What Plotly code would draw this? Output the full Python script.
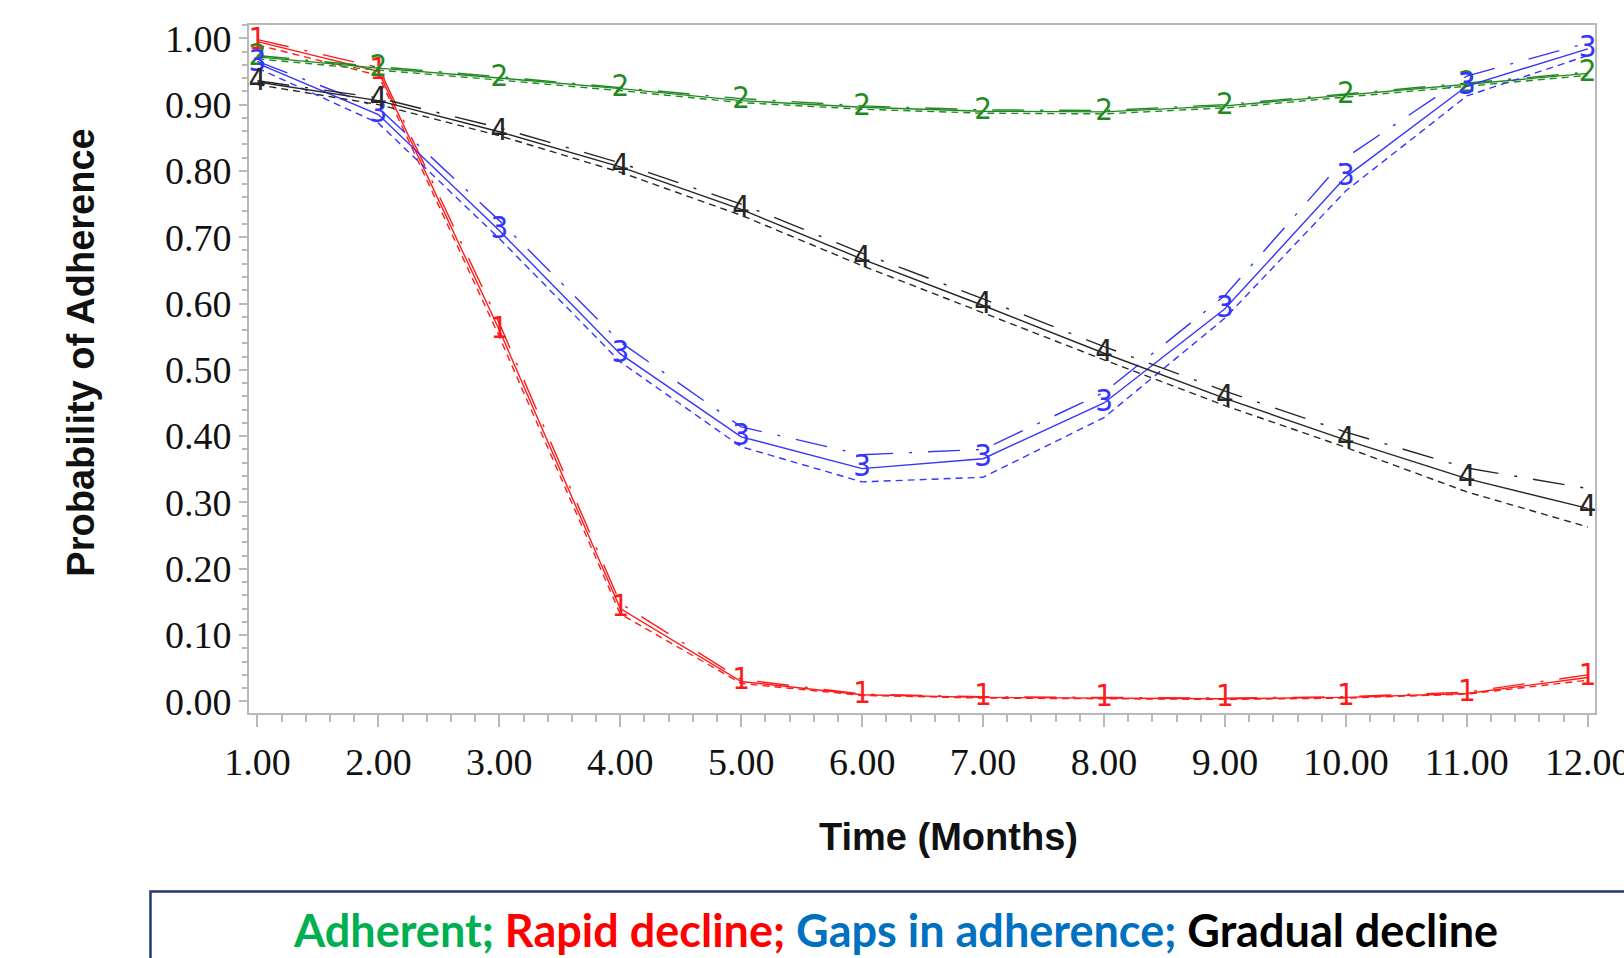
import plotly.graph_objects as go

months = [1, 2, 3, 4, 5, 6, 7, 8, 9, 10, 11, 12]
x_tick_labels = ["1.00", "2.00", "3.00", "4.00", "5.00", "6.00", "7.00", "8.00", "9.00", "10.00", "11.00", "12.00"]
y_tick_vals = [0.0, 0.1, 0.2, 0.3, 0.4, 0.5, 0.6, 0.7, 0.8, 0.9, 1.0]
y_tick_labels = ["0.00", "0.10", "0.20", "0.30", "0.40", "0.50", "0.60", "0.70", "0.80", "0.90", "1.00"]

# Group 1: Rapid decline (red)
rapid_solid   = [0.995, 0.950, 0.560, 0.140, 0.030, 0.010, 0.006, 0.005, 0.004, 0.006, 0.012, 0.036]
rapid_dash    = [0.990, 0.944, 0.550, 0.132, 0.027, 0.009, 0.005, 0.004, 0.003, 0.005, 0.011, 0.032]
rapid_dashdot = [0.998, 0.956, 0.570, 0.148, 0.033, 0.011, 0.007, 0.006, 0.005, 0.007, 0.014, 0.040]

# Group 2: Adherent (green)
adh_solid   = [0.972, 0.955, 0.940, 0.924, 0.906, 0.896, 0.890, 0.889, 0.898, 0.914, 0.931, 0.947]
adh_dash    = [0.969, 0.952, 0.937, 0.921, 0.903, 0.893, 0.887, 0.886, 0.895, 0.911, 0.928, 0.944]
adh_dashdot = [0.974, 0.957, 0.942, 0.926, 0.909, 0.898, 0.892, 0.891, 0.900, 0.916, 0.933, 0.949]

# Group 3: Gaps in adherence (blue)
gaps_solid   = [0.962, 0.885, 0.710, 0.524, 0.399, 0.351, 0.366, 0.450, 0.592, 0.791, 0.928, 0.984]
gaps_dash    = [0.955, 0.872, 0.698, 0.512, 0.384, 0.331, 0.338, 0.428, 0.578, 0.770, 0.913, 0.974]
gaps_dashdot = [0.965, 0.895, 0.725, 0.542, 0.414, 0.372, 0.380, 0.466, 0.612, 0.820, 0.943, 0.993]

# Group 4: Gradual decline (black)
grad_solid   = [0.934, 0.906, 0.859, 0.806, 0.742, 0.667, 0.597, 0.525, 0.457, 0.394, 0.336, 0.291]
grad_dash    = [0.930, 0.900, 0.853, 0.798, 0.733, 0.657, 0.586, 0.515, 0.446, 0.383, 0.316, 0.263]
grad_dashdot = [0.936, 0.910, 0.865, 0.812, 0.750, 0.676, 0.607, 0.535, 0.468, 0.406, 0.352, 0.321]

groups = [
    ("1", "#ff1a1a", rapid_solid, rapid_dash, rapid_dashdot),
    ("2", "#1f8a1f", adh_solid, adh_dash, adh_dashdot),
    ("3", "#3434ff", gaps_solid, gaps_dash, gaps_dashdot),
    ("4", "#262626", grad_solid, grad_dash, grad_dashdot),
]

fig = go.Figure()
for label, color, solid, dash, dashdot in groups:
    fig.add_trace(go.Scatter(x=months, y=dashdot, mode="lines",
                             line=dict(color=color, width=1.4, dash="32px,16px,3px,16px"),
                             showlegend=False, hoverinfo="skip"))
    fig.add_trace(go.Scatter(x=months, y=dash, mode="lines",
                             line=dict(color=color, width=1.4, dash="7px,5px"),
                             showlegend=False, hoverinfo="skip"))
    fig.add_trace(go.Scatter(x=months, y=solid, mode="lines+text",
                             text=[label] * len(months), textposition="middle center",
                             textfont=dict(family="DejaVu Sans Condensed, Liberation Sans Narrow, Liberation Sans",
                                           size=31, color=color),
                             line=dict(color=color, width=1.4),
                             showlegend=False))

axis_col = "#b9b9b9"
tick_font = dict(family="Liberation Serif, Times New Roman, serif", size=38, color="#111111")

fig.update_xaxes(
    range=[0.93, 12.06], tickvals=months, ticktext=x_tick_labels,
    showgrid=False, zeroline=False, showline=True, mirror=True, automargin=False,
    linecolor=axis_col, linewidth=2,
    ticks="outside", ticklen=12, tickwidth=2, tickcolor=axis_col,
    tickfont=tick_font, ticklabelstandoff=2, ticklabeloverflow="allow",
    minor=dict(dtick=0.2, tick0=1, ticks="outside", ticklen=7, tickwidth=2, tickcolor=axis_col, showgrid=False),
)
fig.update_yaxes(
    range=[-0.0175, 1.02], tickvals=y_tick_vals, ticktext=y_tick_labels,
    showgrid=False, zeroline=False, showline=True, mirror=True, automargin=False,
    linecolor=axis_col, linewidth=2,
    ticks="outside", ticklen=8, tickwidth=2, tickcolor=axis_col,
    tickfont=tick_font, ticklabelstandoff=0, ticklabeloverflow="allow",
    minor=dict(dtick=0.02, tick0=0, ticks="outside", ticklen=5, tickwidth=2, tickcolor=axis_col, showgrid=False),
)

title_font = dict(family="Liberation Sans, Arial, sans-serif", size=38, color="#111111", weight="bold")

fig.update_layout(
    width=1624, height=958,
    margin=dict(l=249, r=29, t=25, b=245, pad=0, autoexpand=False),
    plot_bgcolor="white", paper_bgcolor="white",
    annotations=[
        dict(text="Probability of Adherence", x=-0.1245, y=0.5244, xref="paper", yref="paper",
             textangle=-90, showarrow=False, font=title_font, xanchor="center", yanchor="middle"),
        dict(text="Time (Months)", x=0.5195, y=-0.1809, xref="paper", yref="paper",
             showarrow=False, font=title_font, xanchor="center", yanchor="middle"),
        dict(text=("<span style='color:#00b050'>Adherent;</span> "
                   "<span style='color:#ff0000'>Rapid decline;</span> "
                   "<span style='color:#0070c0'>Gaps in adherence;</span> "
                   "<span style='color:#000000'>Gradual decline</span>"),
             x=0.4803, y=-0.316, xref="paper", yref="paper", showarrow=False,
             font=dict(family="Lato, Open Sans, sans-serif", size=45, weight="bold"),
             xanchor="center", yanchor="middle"),
    ],
    shapes=[
        dict(type="rect", xref="paper", yref="paper", x0=-0.0732, x1=1.05, y0=-0.45, y1=-0.2594,
             line=dict(color="#1f3a73", width=2.5), fillcolor="rgba(0,0,0,0)", layer="above"),
    ],
)

fig.write_html("out.html", config={"displayModeBar": False},
               post_script="document.body.style.margin='0';")
